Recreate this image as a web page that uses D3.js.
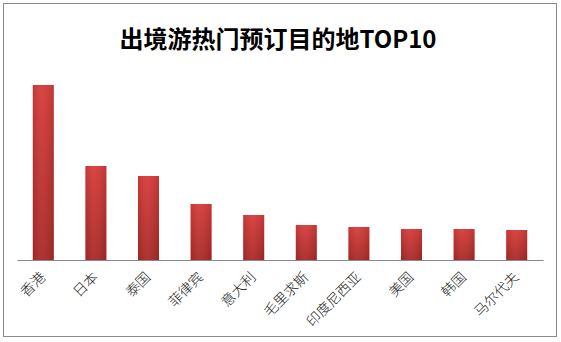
<!DOCTYPE html>
<html><head><meta charset="utf-8">
<script src="https://cdn.jsdelivr.net/npm/d3@7"></script>
<style>
html,body{margin:0;padding:0;background:#fff;}
svg{display:block;}
</style></head>
<body><svg id="c" width="561" height="342"></svg>
<script>
const title = "出境游热门预订目的地TOP10";
const categories = ["香港","日本","泰国","菲律宾","意大利","毛里求斯","印度尼西亚","美国","韩国","马尔代夫"];
const values = [175, 94, 84, 56, 45, 35, 33, 31, 31, 30];

const svg = d3.select("#c");
const baseY = 260;

const defs = svg.append("defs");
const g = defs.append("linearGradient").attr("id","barGrad").attr("x1",0).attr("y1",0).attr("x2",0).attr("y2",1);
g.append("stop").attr("offset","0%").attr("stop-color","#d63c3a");
g.append("stop").attr("offset","100%").attr("stop-color","#a82a28");
const g2 = defs.append("linearGradient").attr("id","barShade").attr("x1",0).attr("y1",0).attr("x2",1).attr("y2",0);
g2.append("stop").attr("offset","0%").attr("stop-color","#000").attr("stop-opacity",0.08);
g2.append("stop").attr("offset","40%").attr("stop-color","#fff").attr("stop-opacity",0.05);
g2.append("stop").attr("offset","100%").attr("stop-color","#000").attr("stop-opacity",0.1);

svg.append("rect").attr("x",3.5).attr("y",3.5).attr("width",553).attr("height",333)
  .attr("fill","#fff").attr("stroke","#8a8a8a").attr("stroke-width",1);

svg.append("text").attr("x",278).attr("y",48).attr("text-anchor","middle")
  .attr("font-family","'Noto Sans CJK SC','Noto Sans',sans-serif").attr("font-weight","bold")
  .attr("font-size",24).attr("fill","#000").text(title);

const x = d3.scaleBand().domain(categories).range([17, 543]).paddingInner(0.6).paddingOuter(0.3);
const y = d3.scaleLinear().domain([0, 200]).range([baseY, baseY - 200]);

const bars = svg.append("g");
bars.selectAll("rect.b").data(values).join("rect").attr("class","b")
  .attr("x",(d,i)=>x(categories[i])).attr("width",x.bandwidth())
  .attr("y",d=>y(d)).attr("height",d=>baseY - y(d)).attr("fill","url(#barGrad)");
bars.selectAll("rect.s").data(values).join("rect").attr("class","s")
  .attr("x",(d,i)=>x(categories[i])).attr("width",x.bandwidth())
  .attr("y",d=>y(d)).attr("height",d=>baseY - y(d)).attr("fill","url(#barShade)");

const axis = d3.axisBottom(x).tickSize(0).tickPadding(0);
const ag = svg.append("g").attr("transform",`translate(0,${baseY})`).call(axis);
ag.select(".domain").attr("stroke","#8a8a8a").attr("stroke-width",1);
ag.selectAll(".tick text")
  .attr("font-family","'Noto Sans CJK SC',serif").attr("font-weight",300)
  .attr("font-size",14).attr("fill","#222")
  .attr("text-anchor","end").attr("dy",0)
  .attr("transform","translate(3,18) rotate(-45)");
</script></body></html>
